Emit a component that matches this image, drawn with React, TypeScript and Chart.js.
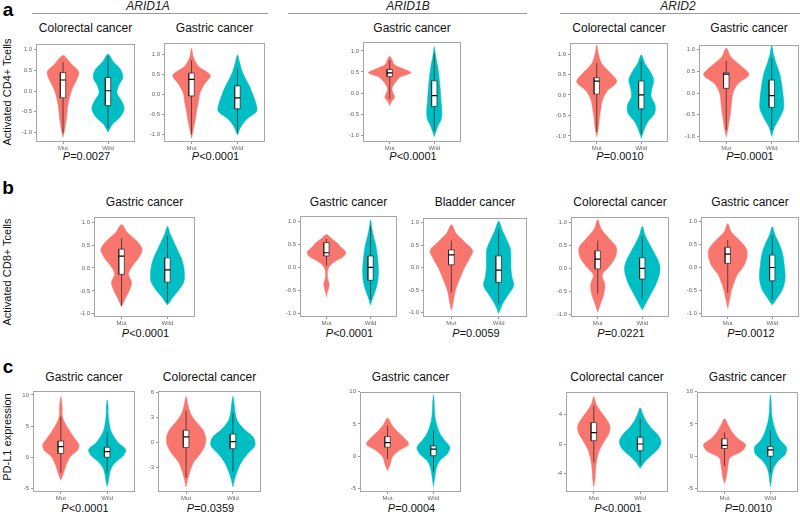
import React, { useEffect, useRef } from "react";
import { Chart, registerables } from "chart.js";

Chart.register(...registerables);

// ---------------- data ----------------
const CATEGORIES = ["Mut", "Wild"];
const GENES = ["ARID1A", "ARID1B", "ARID2"];
const ROW_LETTERS = ["a", "b", "c"];
const ROW_Y_LABELS = ["Activated CD4+ Tcells", "Activated CD8+ Tcells", "PD-L1 expression"];

const PANEL_TITLES = [
  "Colorectal cancer", "Gastric cancer", "Gastric cancer", "Colorectal cancer", "Gastric cancer",
  "Gastric cancer", "Gastric cancer", "Bladder cancer", "Colorectal cancer", "Gastric cancer",
  "Gastric cancer", "Colorectal cancer", "Gastric cancer", "Colorectal cancer", "Gastric cancer",
];

const P_VALUES = [
  "=0.0027", "<0.0001", "<0.0001", "=0.0010", "=0.0001",
  "<0.0001", "<0.0001", "=0.0059", "=0.0221", "=0.0012",
  "<0.0001", "=0.0359", "=0.0004", "<0.0001", "=0.0010",
];

const T1 = [-1, -0.5, 0, 0.5, 1];
const T1L = ["-1.0", "-0.5", "0.0", "0.5", "1.0"];
const Y_TICKS = [
  T1, T1, T1, T1, T1,
  T1, T1, T1, T1, T1,
  [-5, 0, 5, 10], [-3, 0, 3, 6], [-5, 0, 5, 10], [-4, 0, 4], [-5, 0, 5, 10],
];
const Y_TICK_LABELS = [
  T1L, T1L, T1L, T1L, T1L,
  T1L, T1L, T1L, T1L, T1L,
  ["-5", "0", "5", "10"], ["-3", "0", "3", "6"], ["-5", "0", "5", "10"], ["-4", "0", "4"], ["-5", "0", "5", "10"],
];
const Y_LIMITS = [
  [-1.23, 1.15], [-1.19, 1.29], [-1.16, 1.22], [-1.15, 1.28], [-1.13, 1.12],
  [-1.07, 1.12], [-1.08, 1.13], [-1.1, 1.11], [-1.05, 1.12], [-1.08, 1.11],
  [-5.58, 10.7], [-5.92, 6.2], [-5.52, 10.0], [-6.5, 7.1], [-5.52, 10.0],
];

// violin extents [low, high] and half-widths at evenly spaced levels between them
const MUT_RANGE = [
  [-1.11, 0.86], [-1.1, 1.15], [-0.3, 0.87], [-1.02, 1.22], [-1.01, 1.04],
  [-0.85, 0.95], [-0.64, 0.72], [-0.95, 0.95], [-0.94, 1.05], [-0.89, 0.96],
  [-3.7, 9.75], [-5.3, 5.5], [-2.2, 5.9], [-5.8, 6.44], [-4.2, 5.8],
];
const MUT_WIDTHS = [
  [0, 0.04, 0.07, 0.09, 0.11, 0.15, 0.21, 0.3, 0.35, 0.18, 0],
  [0, 0.04, 0.08, 0.11, 0.15, 0.18, 0.28, 0.41, 0.15, 0.04, 0],
  [0, 0.04, 0.11, 0.08, 0.05, 0.08, 0.15, 0.24, 0.48, 0.3, 0.1, 0.06, 0],
  [0, 0.04, 0.06, 0.09, 0.13, 0.24, 0.45, 0.3, 0.11, 0.04, 0],
  [0, 0.04, 0.07, 0.1, 0.12, 0.15, 0.26, 0.5, 0.32, 0.1, 0],
  [0, 0.08, 0.17, 0.22, 0.15, 0.24, 0.38, 0.45, 0.33, 0.13, 0],
  [0, 0.02, 0.05, 0.06, 0.03, 0.02, 0.03, 0.08, 0.2, 0.38, 0.44, 0.34, 0.25, 0.12, 0],
  [0, 0.04, 0.07, 0.13, 0.2, 0.28, 0.38, 0.45, 0.28, 0.1, 0],
  [0, 0.07, 0.14, 0.16, 0.1, 0.27, 0.4, 0.42, 0.25, 0.08, 0],
  [0, 0.04, 0.08, 0.14, 0.22, 0.36, 0.43, 0.42, 0.27, 0.08, 0],
  [0, 0.05, 0.09, 0.14, 0.21, 0.36, 0.39, 0.3, 0.21, 0.13, 0.06, 0.03, 0.03, 0.02, 0],
  [0, 0.04, 0.09, 0.16, 0.3, 0.4, 0.42, 0.35, 0.2, 0.09, 0.04, 0],
  [0, 0.06, 0.1, 0.24, 0.46, 0.36, 0.21, 0.09, 0],
  [0, 0.025, 0.035, 0.05, 0.08, 0.13, 0.22, 0.32, 0.35, 0.27, 0.15, 0.05, 0],
  [0, 0.04, 0.06, 0.08, 0.12, 0.38, 0.46, 0.28, 0.16, 0.08, 0],
];
const WILD_RANGE = [
  [-0.99, 0.9], [-1.02, 0.98], [-1.03, 1.1], [-1.06, 0.98], [-1.0, 1.1],
  [-0.81, 0.91], [-0.82, 1.04], [-1.02, 1.03], [-0.9, 0.91], [-0.82, 0.89],
  [-4.7, 9.2], [-5.3, 5.5], [-4.7, 9.5], [-3.3, 4.9], [-4.7, 9.5],
];
const WILD_WIDTHS = [
  [0, 0.1, 0.28, 0.36, 0.3, 0.2, 0.24, 0.33, 0.28, 0.12, 0],
  [0, 0.07, 0.2, 0.42, 0.4, 0.34, 0.27, 0.18, 0.1, 0.05, 0],
  [0, 0.07, 0.16, 0.17, 0.15, 0.14, 0.12, 0.1, 0.07, 0.03, 0],
  [0, 0.06, 0.15, 0.3, 0.31, 0.22, 0.24, 0.28, 0.2, 0.08, 0],
  [0, 0.06, 0.17, 0.26, 0.26, 0.24, 0.21, 0.17, 0.1, 0.04, 0],
  [0, 0.12, 0.26, 0.36, 0.37, 0.35, 0.3, 0.22, 0.14, 0.06, 0],
  [0, 0.06, 0.13, 0.17, 0.18, 0.17, 0.15, 0.12, 0.07, 0.03, 0],
  [0, 0.08, 0.2, 0.32, 0.28, 0.26, 0.26, 0.25, 0.17, 0.08, 0],
  [0, 0.1, 0.2, 0.3, 0.37, 0.4, 0.35, 0.25, 0.15, 0.06, 0],
  [0, 0.12, 0.23, 0.28, 0.29, 0.27, 0.25, 0.21, 0.14, 0.06, 0],
  [0, 0.03, 0.05, 0.09, 0.19, 0.35, 0.4, 0.25, 0.15, 0.08, 0.05, 0.03, 0.02, 0.02, 0],
  [0, 0.04, 0.1, 0.18, 0.31, 0.47, 0.44, 0.24, 0.1, 0.05, 0.03, 0],
  [0, 0.02, 0.04, 0.07, 0.14, 0.3, 0.36, 0.25, 0.15, 0.09, 0.05, 0.03, 0.02, 0.015, 0],
  [0, 0.1, 0.25, 0.4, 0.45, 0.38, 0.24, 0.13, 0.06, 0],
  [0, 0.02, 0.04, 0.08, 0.18, 0.33, 0.35, 0.22, 0.14, 0.09, 0.05, 0.03, 0.02, 0.015, 0],
];

// box stats: [whisker low, q1, median, q3, whisker high]
const MUT_BOX = [
  [-1.02, -0.16, 0.27, 0.45, 0.7], [-1.0, -0.04, 0.37, 0.53, 0.85], [-0.14, 0.39, 0.48, 0.56, 0.78],
  [-0.9, 0.02, 0.34, 0.42, 0.78], [-0.85, 0.11, 0.44, 0.47, 0.75],
  [-0.82, -0.14, 0.26, 0.41, 0.65], [0.04, 0.25, 0.32, 0.54, 0.62], [-0.55, 0.06, 0.28, 0.39, 0.6],
  [-0.55, -0.01, 0.2, 0.38, 0.6], [-0.55, 0.09, 0.29, 0.44, 0.6],
  [-2.5, 0.6, 1.7, 2.6, 6.5], [-4.2, -0.59, 0.67, 1.46, 3.8], [-0.4, 1.4, 2.1, 3.05, 4.7],
  [-2.5, 0.45, 1.55, 2.9, 5.2], [-1.5, 1.2, 1.7, 2.7, 3.7],
];
const WILD_BOX = [
  [-0.9, -0.35, 0.01, 0.33, 0.85], [-0.95, -0.36, -0.09, 0.21, 0.65], [-0.9, -0.32, -0.06, 0.29, 0.94],
  [-0.95, -0.34, 0.0, 0.34, 0.85], [-0.85, -0.33, -0.06, 0.3, 0.8],
  [-0.75, -0.31, -0.04, 0.22, 0.7], [-0.7, -0.28, 0.0, 0.25, 0.9], [-0.8, -0.33, -0.06, 0.26, 0.85],
  [-0.65, -0.23, 0.0, 0.23, 0.7], [-0.7, -0.29, 0.0, 0.27, 0.7],
  [-2.5, 0.0, 0.9, 1.6, 4.0], [-3.5, -0.74, 0.1, 1.0, 3.5], [-2.4, 0.1, 1.1, 1.6, 4.0],
  [-2.8, -0.9, 0.0, 0.9, 3.5], [-2.5, 0.0, 1.0, 1.5, 4.0],
];

// ---------------- layout / style ----------------
// panel frame [left, right, top, bottom] in page pixels
const PANEL_FRAMES = [
  [36, 135, 42, 142], [164, 265, 41, 142], [363, 461, 40, 142], [570, 668, 41, 142], [699, 799, 43, 142],
  [94, 195, 215, 317], [300, 397, 214, 317], [423, 527, 216, 317], [571, 669, 215, 317], [701, 799, 215, 317],
  [33, 135, 389, 492], [158, 261, 389, 492], [360, 461, 390, 492], [566, 668, 390, 492], [697, 798, 390, 492],
];
const TITLE_Y = [28, 202, 377];
const PVAL_Y = [156, 333, 508];
const GENE_HEADERS = [
  { cx: 148, x1: 32, x2: 268 },
  { cx: 408, x1: 288, x2: 527 },
  { cx: 678, x1: 560, x2: 800 },
];
const ROW_LETTER_Y = [9, 187, 366];
const ROW_LABEL_Y = [92, 272, 437];

const FONT = '"Liberation Sans", Arial, Helvetica, sans-serif';
const COLORS = ["#F8766D", "#00BFC4"];
const BOX_HALF = 0.06;
const Y_AXIS_W = 22;
const X_AXIS_H = 12;
const PAD_TOP = 4;
const PAD_RIGHT = 2;

function violinPoints(center: number, range: number[], widths: number[]) {
  const [lo, hi] = range;
  const n = widths.length;
  const step = (hi - lo) / (n - 1);
  const right = widths.map((w, i) => ({ x: center + w, y: lo + i * step }));
  const left = widths.map((w, i) => ({ x: center - w, y: lo + i * step })).reverse();
  return [...right, ...left.slice(1)];
}

const framePlugin = {
  id: "frame",
  afterDraw(chart: any) {
    const { ctx, chartArea } = chart;
    const l = Math.round(chartArea.left) + 0.5;
    const t = Math.round(chartArea.top) + 0.5;
    const r = Math.round(chartArea.right) - 0.5;
    const b = Math.round(chartArea.bottom) - 0.5;
    ctx.save();
    ctx.strokeStyle = "#a6a6a6";
    ctx.lineWidth = 1;
    ctx.strokeRect(l, t, r - l, b - t);
    ctx.restore();
  },
};

function Panel({ idx }: { idx: number }) {
  const ref = useRef<HTMLCanvasElement>(null);
  const [l, r, t, b] = PANEL_FRAMES[idx];
  const cw = Y_AXIS_W + (r - l) + PAD_RIGHT;
  const ch = PAD_TOP + (b - t) + X_AXIS_H;

  useEffect(() => {
    if (!ref.current) return;
    const boxes = [MUT_BOX[idx], WILD_BOX[idx]];
    const line = (data: any[], color: string, width: number) => ({
      data,
      showLine: true,
      borderColor: color,
      borderWidth: width,
      pointRadius: 0,
      fill: false,
      tension: 0,
    });
    const medians = boxes.map((bx, k) =>
      line([{ x: k + 1 - BOX_HALF, y: bx[2] }, { x: k + 1 + BOX_HALF, y: bx[2] }], "#000", 1.2)
    );
    const rects = boxes.map((bx, k) => ({
      data: [
        { x: k + 1 - BOX_HALF, y: bx[1] },
        { x: k + 1 + BOX_HALF, y: bx[1] },
        { x: k + 1 + BOX_HALF, y: bx[3] },
        { x: k + 1 - BOX_HALF, y: bx[3] },
        { x: k + 1 - BOX_HALF, y: bx[1] },
      ],
      showLine: true,
      borderColor: "#222",
      borderWidth: 0.7,
      backgroundColor: "#ffffff",
      pointRadius: 0,
      fill: "shape",
      tension: 0,
    }));
    const whiskers = boxes.map((bx, k) =>
      line([{ x: k + 1, y: bx[0] }, { x: k + 1, y: bx[4] }], "#222", 0.7)
    );
    const violins = [
      violinPoints(1, MUT_RANGE[idx], MUT_WIDTHS[idx]),
      violinPoints(2, WILD_RANGE[idx], WILD_WIDTHS[idx]),
    ].map((pts, k) => ({
      data: pts,
      showLine: true,
      borderColor: COLORS[k],
      borderWidth: 0.5,
      backgroundColor: COLORS[k],
      pointRadius: 0,
      fill: "shape",
      tension: 0.3,
    }));

    const chart = new Chart(ref.current, {
      type: "scatter",
      data: { datasets: [...medians, ...rects, ...whiskers, ...violins] as any },
      options: {
        responsive: false,
        animation: false,
        devicePixelRatio: 1,
        events: [],
        layout: { padding: { top: PAD_TOP, right: PAD_RIGHT, left: 0, bottom: 0 } },
        plugins: { legend: { display: false }, tooltip: { enabled: false } },
        scales: {
          x: {
            type: "linear",
            min: 0.4,
            max: 2.6,
            afterBuildTicks: (s: any) => {
              s.ticks = CATEGORIES.map((_, i) => ({ value: i + 1 }));
            },
            afterFit: (s: any) => {
              s.height = X_AXIS_H;
            },
            ticks: {
              autoSkip: false,
              maxRotation: 0,
              padding: 1,
              color: "#666",
              font: { family: FONT, size: 6 },
              callback: (v: any) => CATEGORIES[Math.round(Number(v)) - 1],
            },
            grid: { drawOnChartArea: false, tickLength: 2, color: "#999" },
            border: { display: false },
          },
          y: {
            type: "linear",
            min: Y_LIMITS[idx][0],
            max: Y_LIMITS[idx][1],
            afterBuildTicks: (s: any) => {
              s.ticks = Y_TICKS[idx].map((v) => ({ value: v }));
            },
            afterFit: (s: any) => {
              s.width = Y_AXIS_W;
            },
            ticks: {
              autoSkip: false,
              padding: 2,
              color: "#666",
              font: { family: FONT, size: 6 },
              callback: (v: any) => {
                const i = Y_TICKS[idx].indexOf(Number(v));
                return i >= 0 ? Y_TICK_LABELS[idx][i] : "";
              },
            },
            grid: { drawOnChartArea: false, tickLength: 2, color: "#999" },
            border: { display: false },
          },
        },
      } as any,
      plugins: [framePlugin],
    });
    return () => chart.destroy();
  }, [idx]);

  return (
    <canvas
      ref={ref}
      width={cw}
      height={ch}
      style={{ position: "absolute", left: l - Y_AXIS_W, top: t - PAD_TOP, width: cw, height: ch }}
    />
  );
}

const centered = (x: number, y: number, extra: any = {}) => ({
  position: "absolute" as const,
  left: x,
  top: y,
  transform: "translate(-50%, -50%)",
  whiteSpace: "nowrap" as const,
  fontFamily: FONT,
  color: "#111",
  lineHeight: 1,
  ...extra,
});

export default function App() {
  return (
    <div
      style={{
        position: "absolute",
        left: 0,
        top: 0,
        width: 800,
        height: 515,
        background: "#fff",
        overflow: "hidden",
        fontFamily: FONT,
      }}
    >
      {GENE_HEADERS.map((g, i) => (
        <React.Fragment key={"g" + i}>
          <div style={centered(g.cx, 6, { fontSize: 12, fontStyle: "italic", color: "#222" })}>{GENES[i]}</div>
          <div
            style={{ position: "absolute", left: g.x1, top: 13, width: g.x2 - g.x1, height: 0, borderTop: "1px solid #9a9a9a" }}
          />
        </React.Fragment>
      ))}
      {ROW_LETTERS.map((ltr, i) => (
        <React.Fragment key={"r" + i}>
          <div style={centered(8, ROW_LETTER_Y[i], { fontSize: 19, fontWeight: "bold", color: "#000" })}>{ltr}</div>
          <div style={centered(7, ROW_LABEL_Y[i], { fontSize: 11, transform: "translate(-50%, -50%) rotate(-90deg)" })}>
            {ROW_Y_LABELS[i]}
          </div>
        </React.Fragment>
      ))}
      {PANEL_FRAMES.map((f, i) => {
        const row = Math.floor(i / 5);
        const cx = (f[0] + f[1]) / 2;
        return (
          <React.Fragment key={"p" + i}>
            <div style={centered(cx, TITLE_Y[row], { fontSize: 12 })}>{PANEL_TITLES[i]}</div>
            <div style={centered(cx + 1, PVAL_Y[row], { fontSize: 11 })}>
              <i>P</i>
              {P_VALUES[i]}
            </div>
            <Panel idx={i} />
          </React.Fragment>
        );
      })}
    </div>
  );
}
